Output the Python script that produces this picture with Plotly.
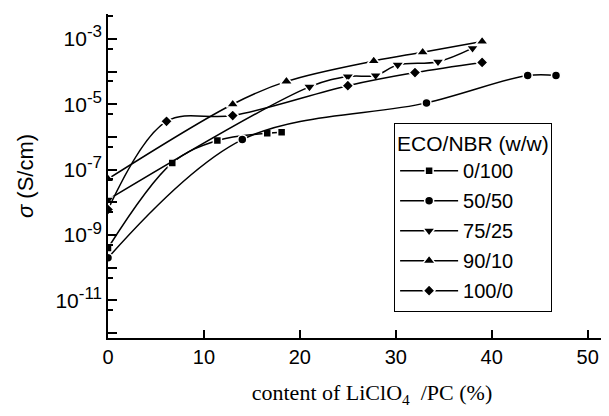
import plotly.graph_objects as go

# Data
names = ["0/100", "50/50", "75/25", "90/10", "100/0"]
symbols = ["square", "circle", "triangle-down", "triangle-up", "diamond"]

x_0_100 = [0, 6.7, 11.4, 16.6, 18.1]
y_0_100 = [4.0e-10, 1.6e-7, 7.8e-7, 1.3e-6, 1.4e-6]

x_50_50 = [0, 14.0, 33.2, 43.75, 46.7]
y_50_50 = [2.0e-10, 8.3e-7, 1.1e-5, 7.6e-5, 7.6e-5]

x_75_25 = [0, 21.0, 25.0, 27.9, 30.2, 34.4, 38.0]
y_75_25 = [1.2e-8, 3.4e-5, 7.0e-5, 7.6e-5, 1.6e-4, 2.0e-4, 5.2e-4]

x_90_10 = [0, 13.0, 18.6, 27.7, 32.8, 39.0]
y_90_10 = [5.2e-8, 1.0e-5, 5.0e-5, 2.1e-4, 3.9e-4, 8.3e-4]

x_100_0 = [0, 6.1, 13.0, 25.0, 32.0, 39.0]
y_100_0 = [6.0e-9, 3.0e-6, 4.5e-6, 3.7e-5, 9.3e-5, 1.9e-4]

xs = [x_0_100, x_50_50, x_75_25, x_90_10, x_100_0]
ys = [y_0_100, y_50_50, y_75_25, y_90_10, y_100_0]
msizes = [8, 9, 11, 11, 9]

x_ticks = [0, 10, 20, 30, 40, 50]
y_exps = list(range(-12, -2))
y_tickvals = [10.0 ** e for e in y_exps]
y_ticktext = [("10<sup><span style='font-size:17px'>%d</span></sup>" % e) if e % 2 != 0 else ""
              for e in y_exps]
y_minorvals = [5 * 10.0 ** e for e in range(-13, -2)]

fig = go.Figure()
for i, (n, s, x, y, ms) in enumerate(zip(names, symbols, xs, ys, msizes)):
    fig.add_trace(go.Scatter(
        x=x, y=y, name=n, mode="lines+markers", legendgroup="g%d" % i,
        line=dict(color="black", width=1.5, shape="spline", smoothing=1.0),
        marker=dict(symbol=s, size=ms, color="black", line=dict(color="white", width=1.5)),
    ))

# page body has an 8px margin, so the figure is 8px smaller and margins shifted
fig.update_layout(
    width=601, height=408,
    margin=dict(l=100, r=6, t=6, b=78),
    paper_bgcolor="white", plot_bgcolor="white",
    font=dict(family="Liberation Sans, Arial", size=20, color="black"),
    showlegend=True,
    legend=dict(
        x=0.578, y=0.664, xanchor="left", yanchor="top",
        bordercolor="black", borderwidth=1, bgcolor="white",
        title=dict(text="ECO/NBR (w/w)", font=dict(size=21)),
        font=dict(size=20), itemwidth=58, tracegroupgap=1,
    ),
)

fig.update_xaxes(
    range=[0, 51.6], tickvals=x_ticks, ticks="inside", ticklen=8, tickwidth=1.5,
    tickcolor="black", showline=True, linecolor="black", linewidth=1.5,
    showgrid=False, zeroline=False, automargin=False,
    tickfont=dict(size=20),
    title=dict(text="&nbsp;&nbsp;&nbsp;&nbsp;&nbsp;&nbsp;content of LiClO<sub>4</sub> &nbsp;/PC (%)",
               font=dict(family="Liberation Serif, Times New Roman", size=22), standoff=18),
)
fig.update_yaxes(
    type="log", range=[-12.15, -2.24], tickvals=y_tickvals, ticktext=y_ticktext,
    ticks="inside", ticklen=9, tickwidth=1.5, tickcolor="black",
    minor=dict(tickvals=y_minorvals, ticks="inside", ticklen=5, tickwidth=1.5, tickcolor="black", showgrid=False),
    showline=True, linecolor="black", linewidth=1.5, showgrid=False, zeroline=False,
    automargin=False,
    tickfont=dict(size=21),
    title=dict(text="<i>σ</i> (S/cm)", font=dict(size=22), standoff=16),
)

fig.write_html("out.html")
